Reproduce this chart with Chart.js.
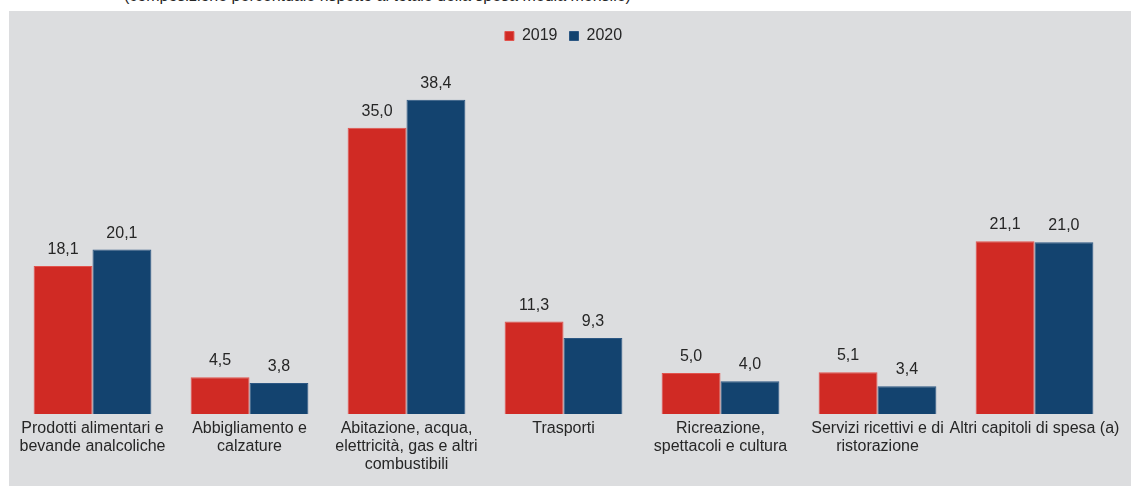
<!DOCTYPE html>
<html lang="it">
<head>
<meta charset="utf-8">
<title>Spesa media mensile familiare per capitolo di spesa</title>
<script src="https://cdn.jsdelivr.net/npm/chart.js@4.4.1/dist/chart.umd.min.js"></script>
<style>
  html, body { margin: 0; padding: 0; background: #ffffff; overflow: hidden; }
  body { width: 1131px; height: 486px; position: relative; font-family: "Liberation Sans", Arial, sans-serif; }
  #subtitle {
    position: absolute; left: 124px; top: -12px;
    font-size: 16px; line-height: 1; color: #262626; white-space: nowrap;
  }
  #panel {
    position: absolute; left: 9px; top: 11px; width: 1122px; height: 475px;
    background: #dcdddf;
  }
  #chart { display: block; }
</style>
</head>
<body>
<div id="subtitle">(composizione percentuale rispetto al totale della spesa media mensile)</div>
<div id="panel"><canvas id="chart" width="1122" height="475"></canvas></div>
<script>
// Capitoli di spesa (etichette su più righe)
const categories = [
  ["Prodotti alimentari e", "bevande analcoliche"],
  ["Abbigliamento e", "calzature"],
  ["Abitazione, acqua,", "elettricità, gas e altri", "combustibili"],
  ["Trasporti"],
  ["Ricreazione,", "spettacoli e cultura"],
  ["Servizi ricettivi e di", "ristorazione"],
  ["Altri capitoli di spesa (a)"]
];

// Quote percentuali sulla spesa media mensile
const values2019 = [18.1, 4.5, 35.0, 11.3, 5.0, 5.1, 21.1];
const values2020 = [20.1, 3.8, 38.4, 9.3, 4.0, 3.4, 21.0];

const seriesNames = ["2019", "2020"];

const FONT = "'Liberation Sans', Arial, sans-serif";
const TEXT = "#262626";

const formatIt = v => v.toFixed(1).replace(".", ",");

// Valori sopra le barre
const barValueLabels = {
  id: "barValueLabels",
  afterDatasetsDraw(chart) {
    const ctx = chart.ctx;
    ctx.save();
    ctx.font = "16px " + FONT;
    ctx.fillStyle = TEXT;
    ctx.textAlign = "center";
    ctx.textBaseline = "alphabetic";
    chart.data.datasets.forEach((ds, i) => {
      const meta = chart.getDatasetMeta(i);
      meta.data.forEach((bar, j) => {
        ctx.fillText(formatIt(ds.data[j]), bar.x, bar.y - 12);
      });
    });
    ctx.restore();
  }
};

new Chart(document.getElementById("chart"), {
  type: "bar",
  data: {
    labels: categories,
    datasets: [
      {
        label: seriesNames[0],
        data: values2019,
        backgroundColor: "#d02a24",
        borderColor: "#e2534d",
        borderWidth: 1,
        borderSkipped: "bottom"
      },
      {
        label: seriesNames[1],
        data: values2020,
        backgroundColor: "#13436f",
        borderColor: "#2c5783",
        borderWidth: 1,
        borderSkipped: "bottom"
      }
    ]
  },
  options: {
    responsive: false,
    animation: false,
    devicePixelRatio: 1,
    layout: { padding: { left: 5, right: 18, top: 5, bottom: 6 } },
    datasets: {
      bar: { categoryPercentage: 0.75, barPercentage: 1.0 }
    },
    scales: {
      x: {
        grid: { display: false, drawTicks: false },
        border: { display: false },
        ticks: {
          color: TEXT,
          font: { family: FONT, size: 16, lineHeight: 1.125 },
          padding: 6,
          maxRotation: 0,
          autoSkip: false
        }
      },
      y: {
        display: false,
        min: 0,
        max: 44
      }
    },
    plugins: {
      legend: {
        position: "top",
        labels: {
          boxWidth: 9,
          boxHeight: 9,
          padding: 12,
          color: TEXT,
          font: { family: FONT, size: 16 }
        }
      },
      tooltip: { enabled: false }
    }
  },
  plugins: [barValueLabels]
});
</script>
</body>
</html>
